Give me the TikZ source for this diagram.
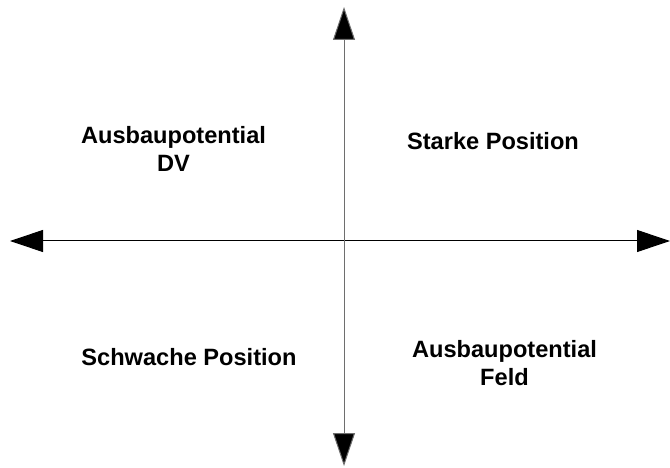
\documentclass[tikz,border=0pt]{standalone}
\usepackage{fontspec}
\setmainfont{Liberation Sans}
\usepackage{tikz}
\usetikzlibrary{arrows.meta, positioning}
\definecolor{axisdark}{RGB}{0, 0, 0}
\definecolor{axisgrey}{RGB}{110, 110, 110}
\tikzset{
  quadlabel/.style={
    align=center, inner sep=0pt,
    font=\fontsize{23.6}{28}\selectfont\bfseries
  },
  axisline/.style={
    draw=axisdark, line width=1pt,
    {Triangle[length=33pt, width=22pt, fill=black]}-{Triangle[length=33pt, width=22pt, fill=black]}
  }
}
\begin{document}
\begin{tikzpicture}[x=1pt, y=-1pt]
  \useasboundingbox (0,0) rectangle (670,468);

  % axis ends
  \coordinate (west) at (10,241);
  \coordinate (east) at (670,241);
  \coordinate (north) at (344,7);
  \coordinate (south) at (344,466);

  \draw[axisline] (west) -- (east);
  \draw[axisline, draw=axisgrey] (north) -- (south);

  % quadrants
  \node[quadlabel] (dv) at (173.5,149) {Ausbaupotential\\DV};
  \node[quadlabel] (starke) at (493,141) {Starke Position};
  \node[quadlabel] (schwache) at (189,357) {Schwache Position};
  \node[quadlabel] (feld) at (504.5,363) {Ausbaupotential\\Feld};
\end{tikzpicture}
\end{document}
